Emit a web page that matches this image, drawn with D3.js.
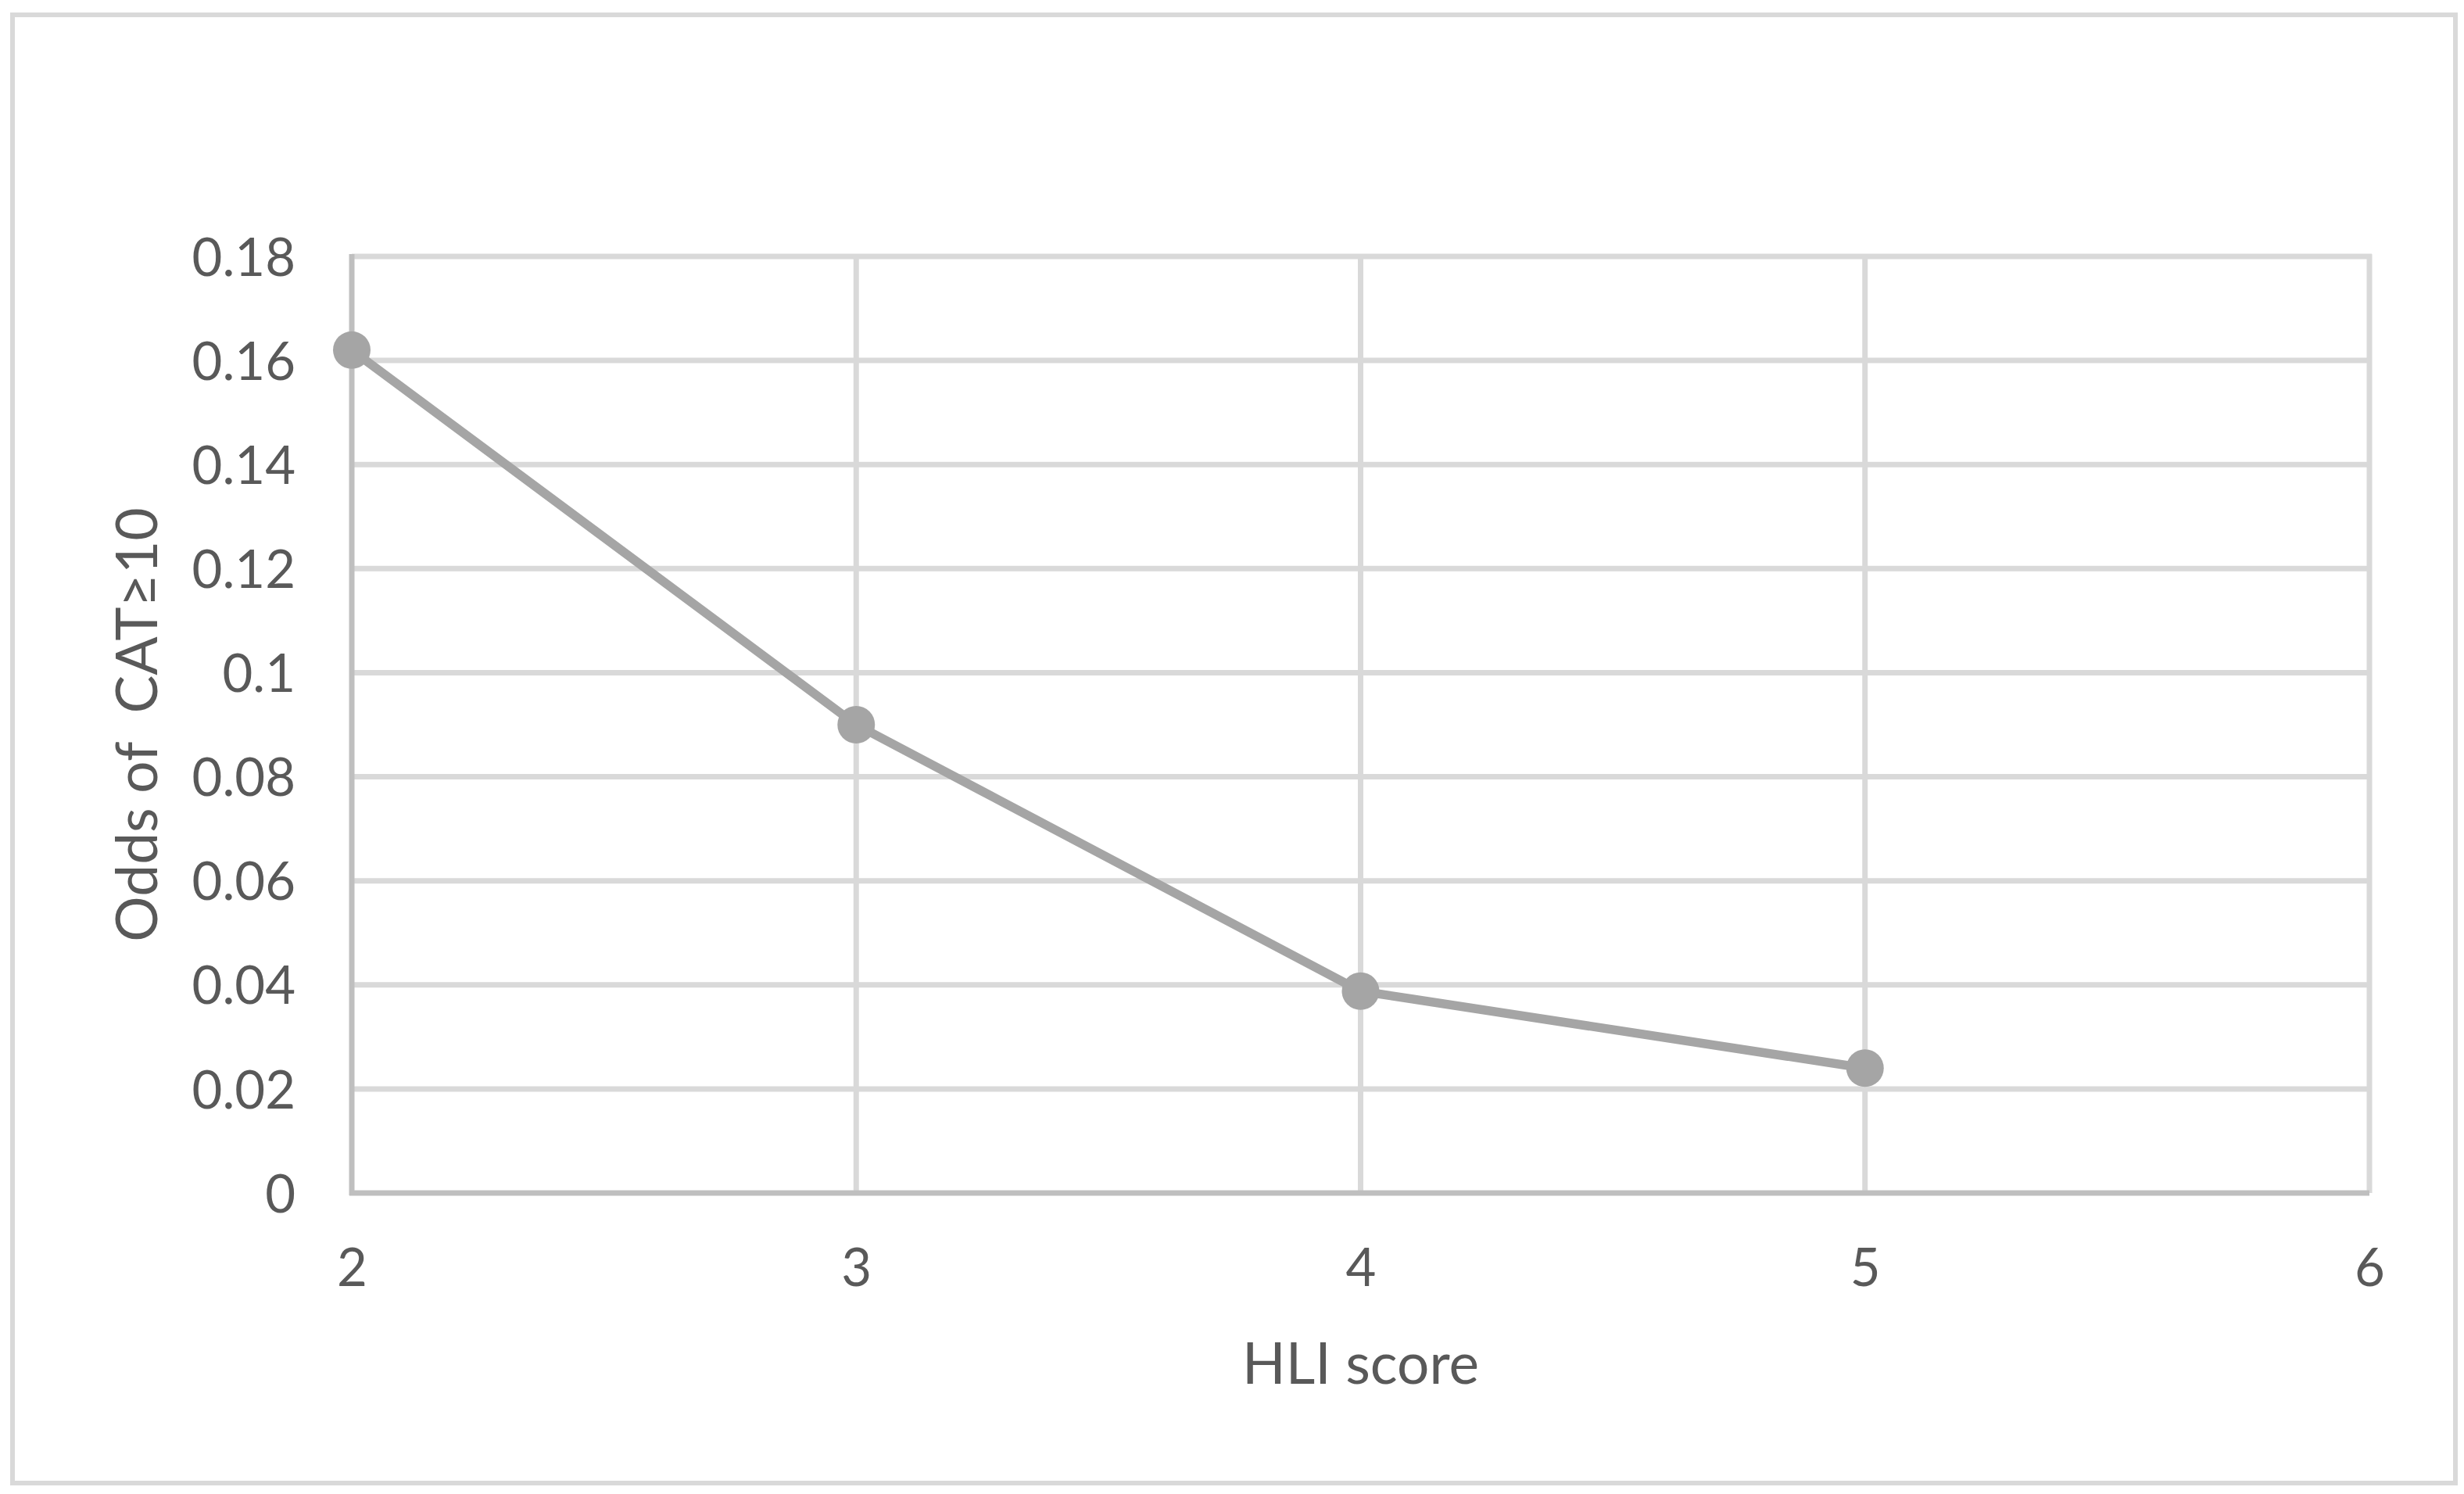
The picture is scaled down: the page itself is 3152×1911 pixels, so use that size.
<!DOCTYPE html>
<html>
<head>
<meta charset="utf-8">
<script src="https://cdn.jsdelivr.net/npm/d3@7"></script>
<style>
  html, body { margin: 0; padding: 0; background: #fff; }
  svg { display: block; }
  text { font-family: Lato, "Open Sans", sans-serif; fill: #595959; }
</style>
</head>
<body>
<svg id="chart" width="3152" height="1911"></svg>
<script>
// ---- data ----
const hliScores = [2, 3, 4, 5];
const oddsValues = [0.162, 0.090, 0.0388, 0.024];
const xTickValues = [2, 3, 4, 5, 6];
const yTickValues = [0, 0.02, 0.04, 0.06, 0.08, 0.1, 0.12, 0.14, 0.16, 0.18];
const yTickLabels = ["0", "0.02", "0.04", "0.06", "0.08", "0.1", "0.12", "0.14", "0.16", "0.18"];
const xTitle = "HLI score";
const yTitle = "Odds of  CAT\u226510";

// ---- layout ----
const plot = { left: 450, right: 3031, top: 328, bottom: 1526 };
const svg = d3.select("#chart");

const x = d3.scaleLinear().domain([2, 6]).range([plot.left, plot.right]);
const y = d3.scaleLinear().domain([0, 0.18]).range([plot.bottom, plot.top]);

// outer chart border
svg.append("rect")
  .attr("x", 16).attr("y", 19)
  .attr("width", 3141 - 16).attr("height", 1897 - 19)
  .attr("fill", "#fff").attr("stroke", "#d9d9d9").attr("stroke-width", 6);

// horizontal gridlines
svg.append("g").selectAll("line")
  .data(yTickValues.filter(d => d !== 0))
  .join("line")
  .attr("x1", plot.left).attr("x2", plot.right + 3)
  .attr("y1", d => y(d)).attr("y2", d => y(d))
  .attr("stroke", "#d9d9d9").attr("stroke-width", 7);

// vertical gridlines
svg.append("g").selectAll("line")
  .data(xTickValues.filter(d => d !== 2))
  .join("line")
  .attr("x1", d => x(d)).attr("x2", d => x(d))
  .attr("y1", plot.top - 3).attr("y2", plot.bottom)
  .attr("stroke", "#d9d9d9").attr("stroke-width", 7);

// axis lines
svg.append("line")
  .attr("x1", x(2)).attr("x2", x(2))
  .attr("y1", plot.top - 3).attr("y2", plot.bottom + 3)
  .attr("stroke", "#bfbfbf").attr("stroke-width", 7);
svg.append("line")
  .attr("x1", plot.left - 3).attr("x2", plot.right)
  .attr("y1", y(0)).attr("y2", y(0))
  .attr("stroke", "#bfbfbf").attr("stroke-width", 7);

// y tick labels
const yAxis = d3.axisLeft(y)
  .tickValues(yTickValues)
  .tickFormat((d, i) => yTickLabels[i])
  .tickSize(0).tickPadding(0);
const gy = svg.append("g").attr("transform", `translate(378,0)`).call(yAxis);
gy.select(".domain").remove();
gy.selectAll("text")
  .attr("x", 0).attr("dy", "0.36em")
  .style("font-size", "67px").style("fill", "#595959")
  .style("font-family", "Lato, 'Open Sans', sans-serif");

// x tick labels
const xAxis = d3.axisBottom(x)
  .tickValues(xTickValues)
  .tickFormat(d3.format("d"))
  .tickSize(0).tickPadding(0);
const gx = svg.append("g").attr("transform", `translate(0,1645)`).call(xAxis);
gx.select(".domain").remove();
gx.selectAll("text")
  .attr("y", 0).attr("dy", "0")
  .style("font-size", "67px").style("fill", "#595959")
  .style("font-family", "Lato, 'Open Sans', sans-serif");

// series line
const line = d3.line()
  .x((d, i) => x(hliScores[i]))
  .y(d => y(d));
svg.append("path")
  .datum(oddsValues)
  .attr("d", line)
  .attr("fill", "none")
  .attr("stroke", "#a5a5a5")
  .attr("stroke-width", 11.5)
  .attr("stroke-linejoin", "round");

// markers
svg.append("g").selectAll("circle")
  .data(oddsValues)
  .join("circle")
  .attr("cx", (d, i) => x(hliScores[i]))
  .attr("cy", d => y(d))
  .attr("r", 24)
  .attr("fill", "#a5a5a5");

// axis titles
svg.append("text")
  .attr("x", (plot.left + plot.right) / 2)
  .attr("y", 1770)
  .attr("text-anchor", "middle")
  .style("font-size", "73px")
  .text(xTitle);

svg.append("text")
  .attr("transform", `translate(201,${(plot.top + plot.bottom) / 2}) rotate(-90)`)
  .attr("text-anchor", "middle")
  .style("font-size", "73px")
  .style("white-space", "pre")
  .attr("xml:space", "preserve")
  .text(yTitle);
</script>
</body>
</html>
